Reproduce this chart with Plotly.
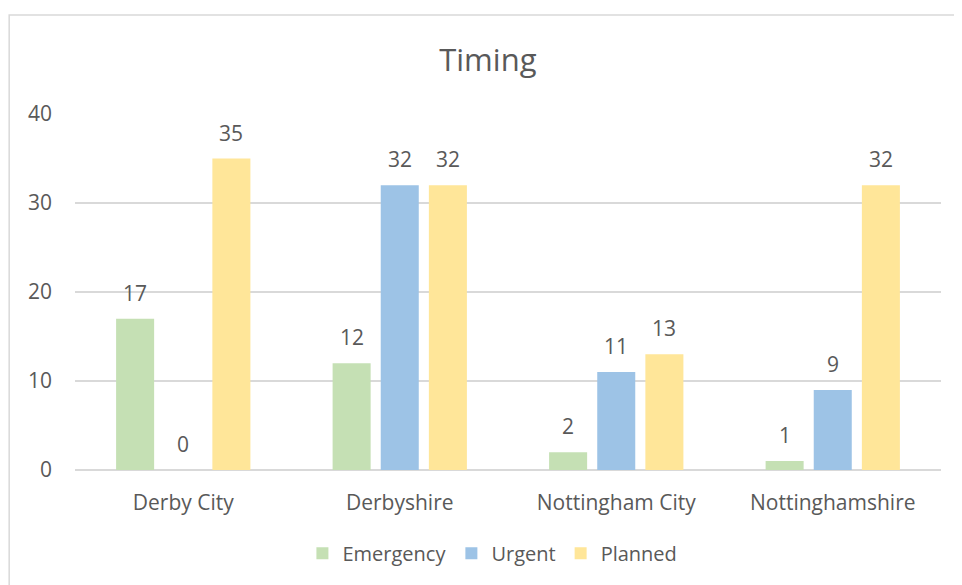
import plotly.graph_objects as go

categories = ["Derby City", "Derbyshire", "Nottingham City", "Nottinghamshire"]
emergency = [17, 12, 2, 1]
urgent = [0, 32, 11, 9]
planned = [35, 32, 13, 32]
series_names = ["Emergency", "Urgent", "Planned"]
colors = ["#C5E0B4", "#9DC3E6", "#FFE699"]
y_ticks = [0, 10, 20, 30, 40]

FONT = "Open Sans, sans-serif"
GRAY = "#595959"
FS = 21

fig = go.Figure()
all_series = [emergency, urgent, planned]
for name, vals, col in zip(series_names, all_series, colors):
    fig.add_trace(go.Bar(x=categories, y=vals, name=name, marker=dict(color=col, line=dict(width=0))))

offsets = [-48, 0, 48]
for vals, off in zip(all_series, offsets):
    for c, v in zip(categories, vals):
        fig.add_annotation(x=c, y=v, xref="x", yref="y", text=str(v), showarrow=False,
                           xshift=off, yshift=26, font=dict(family=FONT, size=FS, color=GRAY))

# outer light border
fig.add_shape(type="rect", xref="paper", yref="paper", x0=-0.076, x1=1.1, y0=-0.6, y1=1.278,
              line=dict(color="#D9D9D9", width=1.5), fillcolor="rgba(0,0,0,0)", layer="below")

fig.update_layout(
    width=954, height=577,
    margin=dict(l=67, r=21, t=106, b=115),
    paper_bgcolor="white", plot_bgcolor="white",
    barmode="group", bargap=0.333, bargroupgap=0.21,
    title=dict(text="Timing", x=0.503, xanchor="center", y=1 - 52 / 577, yanchor="middle",
               font=dict(family=FONT, size=31, color=GRAY)),
    font=dict(family=FONT, size=FS, color=GRAY),
    showlegend=True,
    legend=dict(orientation="h", x=0.482, xanchor="center", y=-0.234, yanchor="middle",
                font=dict(family=FONT, size=20, color=GRAY), itemwidth=30, traceorder="normal"),
    xaxis=dict(showgrid=False, showline=False, ticks="", tickfont=dict(family=FONT, size=FS, color=GRAY),
               ticklabelstandoff=18),
    yaxis=dict(range=[0, 40], tickvals=y_ticks, showgrid=True, gridcolor="#D9D9D9", gridwidth=1.5,
               zeroline=True, zerolinecolor="#D9D9D9", zerolinewidth=1.5, showline=False,
               tickfont=dict(family=FONT, size=FS, color=GRAY), ticklabelstandoff=22),
)

fig.write_html("out.html")
